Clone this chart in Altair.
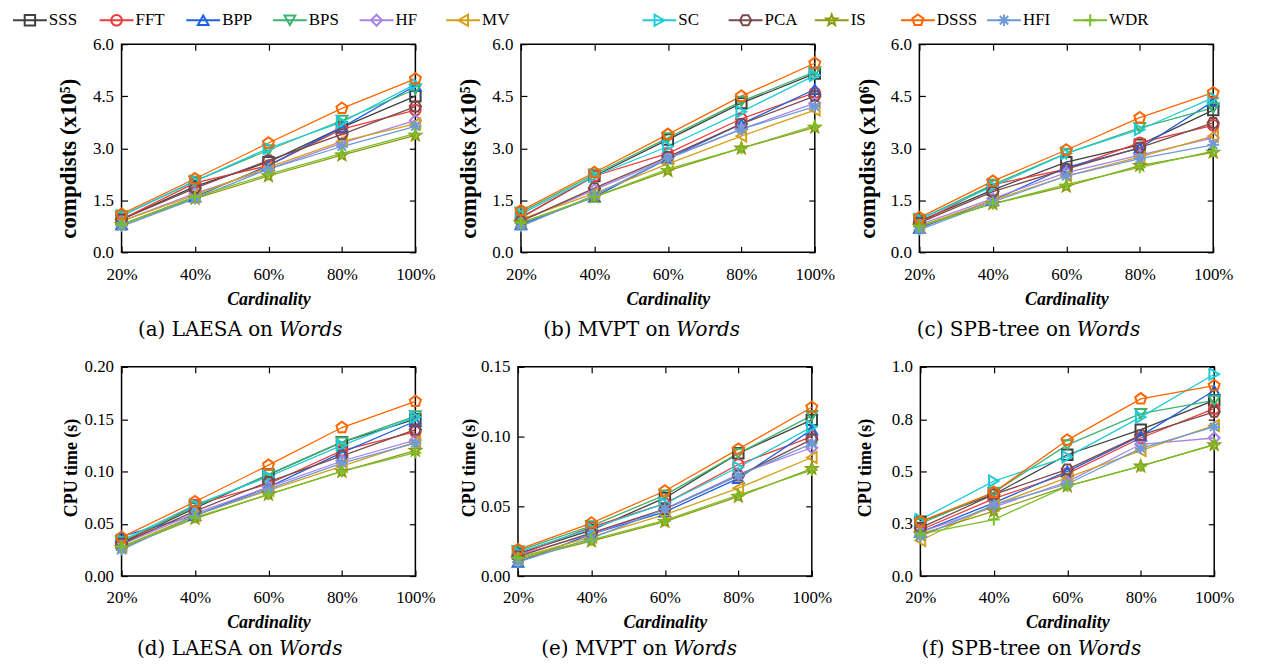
import math
import altair as alt
import pandas as pd

series = ["SSS", "FFT", "BPP", "BPS", "HF", "MV", "SC", "PCA", "IS", "DSSS", "HFI", "WDR"]
colors = ["#404040", "#ee3b3b", "#1e62e0", "#3cb371", "#a883e8", "#d4a017",
          "#1fcbd6", "#7b4b4b", "#8f9a10", "#ff6600", "#6e9ad8", "#78c028"]
cards = [20, 40, 60, 80, 100]

# (a) LAESA compdists (x10^5)
laesa_cd = {
    "SSS": [0.95, 1.9, 2.6, 3.6, 4.5], "FFT": [0.95, 2.0, 2.5, 3.55, 4.1],
    "BPP": [0.8, 1.6, 2.5, 3.6, 4.8], "BPS": [1.05, 2.05, 2.95, 3.8, 4.7],
    "HF": [0.9, 1.7, 2.4, 3.15, 3.8], "MV": [0.9, 1.65, 2.45, 3.2, 3.7],
    "SC": [1.05, 2.05, 3.0, 3.75, 4.85], "PCA": [0.95, 1.85, 2.65, 3.4, 4.2],
    "IS": [0.8, 1.55, 2.2, 2.8, 3.37], "DSSS": [1.1, 2.12, 3.15, 4.15, 5.0],
    "HFI": [0.75, 1.55, 2.4, 3.05, 3.63], "WDR": [0.8, 1.6, 2.25, 2.85, 3.42],
}
# (b) MVPT compdists (x10^5)
mvpt_cd = {
    "SSS": [1.0, 2.2, 3.25, 4.3, 5.15], "FFT": [1.0, 2.2, 2.85, 3.85, 4.6],
    "BPP": [0.8, 1.6, 2.7, 3.7, 4.7], "BPS": [1.15, 2.25, 3.3, 4.35, 5.2],
    "HF": [0.9, 1.8, 2.7, 3.55, 4.3], "MV": [0.95, 1.7, 2.55, 3.35, 4.1],
    "SC": [1.1, 2.2, 3.05, 4.05, 5.1], "PCA": [0.9, 1.85, 2.75, 3.7, 4.5],
    "IS": [0.85, 1.6, 2.35, 3.0, 3.6], "DSSS": [1.2, 2.3, 3.4, 4.5, 5.45],
    "HFI": [0.75, 1.65, 2.7, 3.55, 4.2], "WDR": [0.85, 1.6, 2.4, 3.0, 3.65],
}
# (c) SPB-tree compdists (x10^6)
spb_cd = {
    "SSS": [0.9, 1.8, 2.6, 3.1, 4.1], "FFT": [0.85, 1.95, 2.4, 3.16, 3.66],
    "BPP": [0.7, 1.5, 2.45, 3.0, 4.35], "BPS": [0.95, 1.95, 2.85, 3.59, 4.16],
    "HF": [0.8, 1.55, 2.3, 2.8, 3.3], "MV": [0.75, 1.5, 2.2, 2.75, 3.35],
    "SC": [0.95, 1.9, 2.85, 3.54, 4.45], "PCA": [0.85, 1.75, 2.4, 3.02, 3.73],
    "IS": [0.75, 1.4, 1.9, 2.5, 2.88], "DSSS": [1.0, 2.05, 2.95, 3.88, 4.6],
    "HFI": [0.65, 1.45, 2.2, 2.7, 3.1], "WDR": [0.75, 1.4, 1.95, 2.45, 2.92],
}
# (d) LAESA CPU time (s)
laesa_cpu = {
    "SSS": [0.032, 0.065, 0.097, 0.128, 0.15], "FFT": [0.03, 0.068, 0.088, 0.12, 0.138],
    "BPP": [0.038, 0.058, 0.085, 0.118, 0.148], "BPS": [0.033, 0.066, 0.097, 0.128, 0.153],
    "HF": [0.03, 0.06, 0.085, 0.11, 0.13], "MV": [0.028, 0.058, 0.082, 0.105, 0.128],
    "SC": [0.034, 0.068, 0.095, 0.125, 0.152], "PCA": [0.031, 0.062, 0.09, 0.115, 0.14],
    "IS": [0.027, 0.055, 0.078, 0.1, 0.12], "DSSS": [0.037, 0.071, 0.106, 0.142, 0.167],
    "HFI": [0.025, 0.058, 0.083, 0.108, 0.127], "WDR": [0.028, 0.056, 0.078, 0.1, 0.118],
}
# (e) MVPT CPU time (s)
mvpt_cpu = {
    "SSS": [0.016, 0.033, 0.056, 0.088, 0.112], "FFT": [0.015, 0.035, 0.052, 0.08, 0.1],
    "BPP": [0.01, 0.03, 0.046, 0.07, 0.105], "BPS": [0.018, 0.036, 0.058, 0.088, 0.115],
    "HF": [0.015, 0.03, 0.048, 0.073, 0.092], "MV": [0.013, 0.028, 0.044, 0.063, 0.085],
    "SC": [0.017, 0.034, 0.052, 0.078, 0.107], "PCA": [0.014, 0.031, 0.048, 0.072, 0.098],
    "IS": [0.012, 0.025, 0.039, 0.057, 0.077], "DSSS": [0.019, 0.038, 0.061, 0.091, 0.121],
    "HFI": [0.01, 0.027, 0.048, 0.072, 0.095], "WDR": [0.013, 0.026, 0.04, 0.058, 0.076],
}
# (f) SPB-tree CPU time (s)
spb_cpu = {
    "SSS": [0.26, 0.39, 0.58, 0.70, 0.84], "FFT": [0.22, 0.37, 0.49, 0.66, 0.8],
    "BPP": [0.21, 0.35, 0.5, 0.67, 0.887], "BPS": [0.25, 0.40, 0.627, 0.776, 0.84],
    "HF": [0.21, 0.33, 0.45, 0.63, 0.66], "MV": [0.17, 0.34, 0.47, 0.6, 0.72],
    "SC": [0.27, 0.454, 0.57, 0.76, 0.965], "PCA": [0.23, 0.39, 0.51, 0.674, 0.785],
    "IS": [0.2, 0.31, 0.43, 0.525, 0.627], "DSSS": [0.26, 0.40, 0.65, 0.847, 0.91],
    "HFI": [0.19, 0.34, 0.44, 0.61, 0.713], "WDR": [0.2, 0.27, 0.43, 0.525, 0.63],
}

# ---- marker shapes (hollow, gnuplot-like) ----
def poly_path(n, r_out, r_in=None, rot=-90):
    pts = []
    k = n * 2 if r_in else n
    for i in range(k):
        r = r_out if (r_in is None or i % 2 == 0) else r_in
        a = math.radians(rot + i * 360.0 / k)
        pts.append(f"{r * math.cos(a):.3f},{r * math.sin(a):.3f}")
    return "M" + "L".join(pts) + "Z"

hexagon = poly_path(6, 1.0, rot=0)
star = poly_path(5, 1.0, 0.42)
pentagon = poly_path(5, 1.0)
asterisk = "M-1,0L1,0M0,-1L0,1M-0.72,-0.72L0.72,0.72M-0.72,0.72L0.72,-0.72"
plus = "M-1,0L1,0M0,-1L0,1"
shapes = ["square", "circle", "triangle-up", "triangle-down", "diamond", "triangle-left",
          "triangle-right", hexagon, star, pentagon, asterisk, plus]
sizes = [150, 190, 190, 190, 220, 190, 190, 260, 330, 520, 360, 300]
leg_sizes = [110, 140, 140, 140, 160, 140, 140, 170, 210, 260, 230, 220]

FONT = "Liberation Serif"
SUBFONT = "DejaVu Serif"
W = 295

color_enc = alt.Color("series:N", scale=alt.Scale(domain=series, range=colors), legend=None)
shape_enc = alt.Shape("series:N", scale=alt.Scale(domain=series, range=shapes), legend=None)
size_enc = alt.Size("series:N", scale=alt.Scale(domain=series, range=sizes), legend=None)


def panel(vals, ymax, yticks, yfmt, ytitle, tsize, tx, ty, plain, italic, split, H, sub_dy):
    rows = []
    for s in series:
        for c, v in zip(cards, vals[s]):
            rows.append({"series": s, "card": c, "val": v})
    df = pd.DataFrame(rows)
    xs = alt.Scale(domain=[20, 100], nice=False, zero=False)
    ys = alt.Scale(domain=[0, ymax], nice=False, zero=True)
    x_main = alt.X("card:Q", scale=xs, axis=alt.Axis(
        values=cards, labelExpr="datum.value + '%'", title="Cardinality", offset=-6,
        tickSize=6, domain=False, grid=False, labelFontSize=17, labelPadding=14,
        titleFontSize=18, titleFontStyle="italic", titleFontWeight="bold", titlePadding=8,
        labelFlush=False))
    y_main = alt.Y("val:Q", scale=ys, axis=alt.Axis(
        values=yticks, format=yfmt, title=ytitle, offset=-6, tickSize=6, domain=False,
        grid=False, labelFontSize=17, labelPadding=8, titleFontSize=tsize,
        titleFontWeight="bold", titleX=tx, titleY=H / 2 + ty, titleBaseline="middle"))
    base = alt.Chart(df)
    lines = base.mark_line(strokeWidth=1.3).encode(
        x=x_main, y=y_main, color=color_enc, detail="series:N", order="card:Q")
    pts = base.mark_point(filled=False, strokeWidth=2, opacity=1).encode(
        x=alt.X("card:Q", scale=xs, axis=None), y=alt.Y("val:Q", scale=ys, axis=None),
        color=color_enc, shape=shape_enc, size=size_enc)
    mirror = base.mark_point(opacity=0).encode(
        x=alt.X("card:Q", scale=xs, axis=alt.Axis(
            orient="top", values=cards, labels=False, title=None, offset=-6, tickSize=6,
            domain=False, grid=False)),
        y=alt.Y("val:Q", scale=ys, axis=alt.Axis(
            orient="right", values=yticks, labels=False, title=None, offset=-6,
            tickSize=6, domain=False, grid=False)))
    t1 = alt.Chart(pd.DataFrame({"t": [plain]})).mark_text(
        font=SUBFONT, fontSize=20, align="right", baseline="middle", color="black"
    ).encode(text="t:N", x=alt.value(split), y=alt.value(H + sub_dy))
    t2 = alt.Chart(pd.DataFrame({"t": [italic]})).mark_text(
        font=SUBFONT, fontSize=20, fontStyle="italic", align="left", baseline="middle",
        color="black"
    ).encode(text="t:N", x=alt.value(split + 6), y=alt.value(H + sub_dy))
    return alt.layer(lines, pts, mirror, t1, t2).resolve_axis(
        x="independent", y="independent").properties(width=W, height=H)


cd5 = "compdists (x10\u2075)"
cd6 = "compdists (x10\u2076)"
cpu = "CPU time (s)"
t1v = [0, 1.5, 3.0, 4.5, 6.0]
p_a = panel(laesa_cd, 6.0, t1v, ".1f", cd5, 23, -59, 10, "(a) LAESA on", "Words", 152, 209, 78)
p_b = panel(mvpt_cd, 6.0, t1v, ".1f", cd5, 23, -59, 10, "(b) MVPT on", "Words", 150, 209, 78)
p_c = panel(spb_cd, 6.0, t1v, ".1f", cd6, 23, -58, 10, "(c) SPB-tree on", "Words", 152, 209, 78)
p_d = panel(laesa_cpu, 0.20, [0, 0.05, 0.10, 0.15, 0.20], ".2f", cpu, 18, -56, -4,
            "(d) LAESA on", "Words", 152, 210, 73)
p_e = panel(mvpt_cpu, 0.15, [0, 0.05, 0.10, 0.15], ".2f", cpu, 18, -55, -4,
            "(e) MVPT on", "Words", 150, 210, 73)
p_f = panel(spb_cpu, 1.0, [0, 0.25, 0.5, 0.75, 1.0], ".1f", cpu, 18, -61, -4,
            "(f) SPB-tree on", "Words", 152, 210, 73)

# ---- legend row ----
ORIGIN = 118  # page x of the first plot's left edge
leg_x = [9 + 87 * i for i in range(6)] + [641 + 86.5 * i for i in range(6)]
leg_df = pd.DataFrame({"series": series, "lx": leg_x})
leg_df["sx"] = leg_df["lx"] + 17
leg_df["tx"] = leg_df["lx"] + 36
LW = 1265 - ORIGIN
lxs = alt.Scale(domain=[ORIGIN, ORIGIN + LW], nice=False, zero=False)
lbase = alt.Chart(leg_df)
leg_line = lbase.mark_point(shape="stroke", size=34 * 34, strokeWidth=2, opacity=1).encode(
    x=alt.X("sx:Q", scale=lxs, axis=None), y=alt.value(7), color=color_enc)
leg_sym = lbase.mark_point(filled=False, strokeWidth=2, opacity=1).encode(
    x=alt.X("sx:Q", scale=lxs, axis=None), y=alt.value(7), color=color_enc,
    shape=shape_enc,
    size=alt.Size("series:N", scale=alt.Scale(domain=series, range=leg_sizes), legend=None))
leg_txt = lbase.mark_text(font=FONT, fontSize=17, align="left", baseline="middle",
                          color="black").encode(
    x=alt.X("tx:Q", scale=lxs, axis=None), y=alt.value(7), text="series:N")
legend = alt.layer(leg_line, leg_sym, leg_txt).properties(
    width=LW, height=14, view=alt.ViewBackground(stroke="transparent"))

row1 = alt.hconcat(p_a, p_b, p_c, spacing=20)
row2 = alt.hconcat(p_d, p_e, p_f, spacing=23)
rows = alt.vconcat(row1, row2, spacing=16)
chart = alt.vconcat(legend, rows, spacing=3).configure_view(
    stroke="black", strokeWidth=1.5
).configure_axis(
    labelFont=FONT, titleFont=FONT, labelColor="black", titleColor="black",
    tickColor="black", tickWidth=1.2
).properties(padding={"left": 0, "top": 0, "right": 0, "bottom": 0})

chart.save("out.html", embed_options={"renderer": "svg", "actions": False})
